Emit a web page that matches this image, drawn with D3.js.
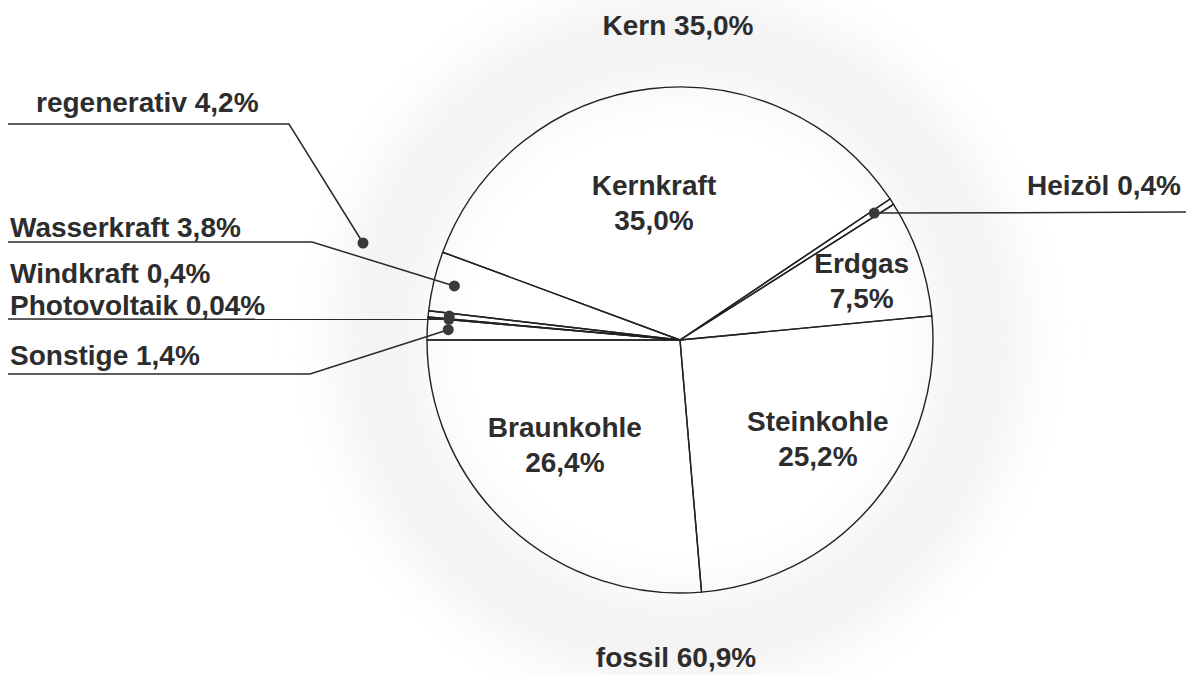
<!DOCTYPE html>
<html>
<head>
<meta charset="utf-8">
<script src="https://cdn.jsdelivr.net/npm/d3@7"></script>
<style>
	html, body { margin: 0; padding: 0; background: #fff; }
	svg { display: block; }
	text { font-family: "Liberation Sans", Arial, sans-serif; font-weight: bold; fill: #2d2d2d; }
</style>
</head>
<body>
<svg id="chart" width="1189" height="675"></svg>
<script>
'use strict';

// Stromerzeugung nach Energieträgern, Anteile in %
var sources = ['Kernkraft', 'Heizöl', 'Erdgas', 'Steinkohle', 'Braunkohle',
	'Sonstige', 'Photovoltaik', 'Windkraft', 'Wasserkraft'];
var shares = [35.0, 0.4, 7.5, 25.2, 26.4, 1.4, 0.04, 0.4, 3.8];

var groups = ['Kern', 'fossil', 'regenerativ'];
var groupShares = [35.0, 60.9, 4.2];

var pct = function(v) {
	return d3.format(v < 0.1 ? '.2f' : '.1f')(v).replace('.', ',') + '%';
};

var cx = 680, cy = 340, R = 253;
var deg = Math.PI / 180;
var FS = 28;

var svg = d3.select('#chart');

// faint scanned-paper halo round the circle
var defs = svg.append('defs');
defs.append('filter')
	.attr('id', 'blur')
	.attr('x', '-50%').attr('y', '-50%')
	.attr('width', '200%').attr('height', '200%')
	.append('feGaussianBlur')
		.attr('stdDeviation', 26)
	;
svg.append('circle')
	.attr('cx', cx).attr('cy', cy).attr('r', 300)
	.attr('fill', 'none')
	.attr('stroke', '#f3f3f3')
	.attr('stroke-width', 90)
	.attr('filter', 'url(#blur)')
	;

var data = sources.map(function(s, i) { return {name: s, value: shares[i]}; });

var a0 = -69.7 * deg;
var pie = d3.pie()
	.sort(null)
	.startAngle(a0)
	.endAngle(a0 + 2 * Math.PI)
	.value(function(d) { return d.value; })
	(data)
	;

var arc = d3.arc()
	.innerRadius(0)
	.outerRadius(R)
	;

var chart = svg.append('g')
	.attr('transform', 'translate(' + cx + ' ' + cy + ')')
	;

chart.selectAll('path.sector')
	.data(pie)
	.enter()
	.append('path')
		.classed('sector', true)
		.attr('d', arc)
		.attr('fill', 'none')
		.attr('stroke', '#222')
		.attr('stroke-width', 1.4)
		.attr('stroke-linejoin', 'round')
	;

// labels inside the big slices: radius and angle nudge (deg)
var insideR = {Kernkraft: 139, Erdgas: 191, Steinkohle: 170, Braunkohle: 156};
var insideTurn = {Kernkraft: -4, Erdgas: 1, Steinkohle: -4, Braunkohle: 5};
var inner = pie.filter(function(d) { return insideR[d.data.name]; });
var labels = chart.selectAll('g.inlabel')
	.data(inner)
	.enter()
	.append('g')
		.attr('class', 'inlabel')
		.attr('transform', function(d) {
			var r = insideR[d.data.name];
			var a = (d.startAngle + d.endAngle) / 2 + insideTurn[d.data.name] * deg;
			return 'translate(' + (r * Math.sin(a)) + ' ' + (-r * Math.cos(a)) + ')';
		})
	;
labels.append('text')
	.attr('text-anchor', 'middle')
	.attr('y', -8)
	.attr('font-size', FS)
	.text(function(d) { return d.data.name; })
	;
labels.append('text')
	.attr('text-anchor', 'middle')
	.attr('y', 27)
	.attr('font-size', FS)
	.text(function(d) { return pct(d.data.value); })
	;

// dots for the thin slices
var dotR = 232;
var dotArc = d3.arc().innerRadius(dotR).outerRadius(dotR);
var small = pie.filter(function(d) { return !insideR[d.data.name]; });
function dotPos(d) {
	var c = dotArc.centroid(d);
	return [c[0] + cx, c[1] + cy];
}

// outside labels: text place, elbow and underline
var callouts = {
	'Wasserkraft': {x: 10, y: 237, line: 242, elbow: 312, anchor: 'start'},
	'Windkraft': {x: 10, y: 283, line: null, anchor: 'start'},
	'Photovoltaik': {x: 10, y: 315, line: 319, elbow: null, anchor: 'start'},
	'Sonstige': {x: 10, y: 365, line: 374, elbow: 310, anchor: 'start'},
	'Heizöl': {x: 1181, y: 195, line: null, anchor: 'end'}
};

var lines = svg.append('g')
	.attr('fill', 'none')
	.attr('stroke', '#2a2a2a')
	.attr('stroke-width', 1.5)
	;

small.forEach(function(d) {
	var c = callouts[d.data.name];
	var p = dotPos(d);
	if (c.line !== null) {
		var pts = c.elbow === null
			? [[8, c.line], [p[0], p[1]]]
			: [[8, c.line], [c.elbow, c.line], p];
		lines.append('path').attr('d', d3.line()(pts));
	}
	if (d.data.name === 'Heizöl') {
		lines.append('path').attr('d', d3.line()([p, [1186, p[1] - 1]]));
	}
	svg.append('text')
		.attr('x', c.x)
		.attr('y', c.y)
		.attr('text-anchor', c.anchor)
		.attr('font-size', FS)
		.text(d.data.name + ' ' + pct(d.data.value))
		;
});

svg.append('g')
	.selectAll('circle')
	.data(small)
	.enter()
	.append('circle')
		.attr('cx', function(d) { return dotPos(d)[0]; })
		.attr('cy', function(d) { return dotPos(d)[1]; })
		.attr('r', 5.5)
		.attr('fill', '#3a3a3a')
	;

// group labels
svg.append('text')
	.attr('x', 678)
	.attr('y', 35)
	.attr('text-anchor', 'middle')
	.attr('font-size', FS)
	.text(groups[0] + ' ' + pct(groupShares[0]))
	;
svg.append('text')
	.attr('x', 676)
	.attr('y', 667)
	.attr('text-anchor', 'middle')
	.attr('font-size', FS)
	.text(groups[1] + ' ' + pct(groupShares[1]))
	;
svg.append('text')
	.attr('x', 36)
	.attr('y', 112)
	.attr('text-anchor', 'start')
	.attr('font-size', FS)
	.text(groups[2] + ' ' + pct(groupShares[2]))
	;
lines.append('path')
	.attr('d', d3.line()([[8, 124], [289, 124], [363, 243]]))
	;
svg.append('circle')
	.attr('cx', 363)
	.attr('cy', 243)
	.attr('r', 5.5)
	.attr('fill', '#3a3a3a')
	;
</script>
</body>
</html>
